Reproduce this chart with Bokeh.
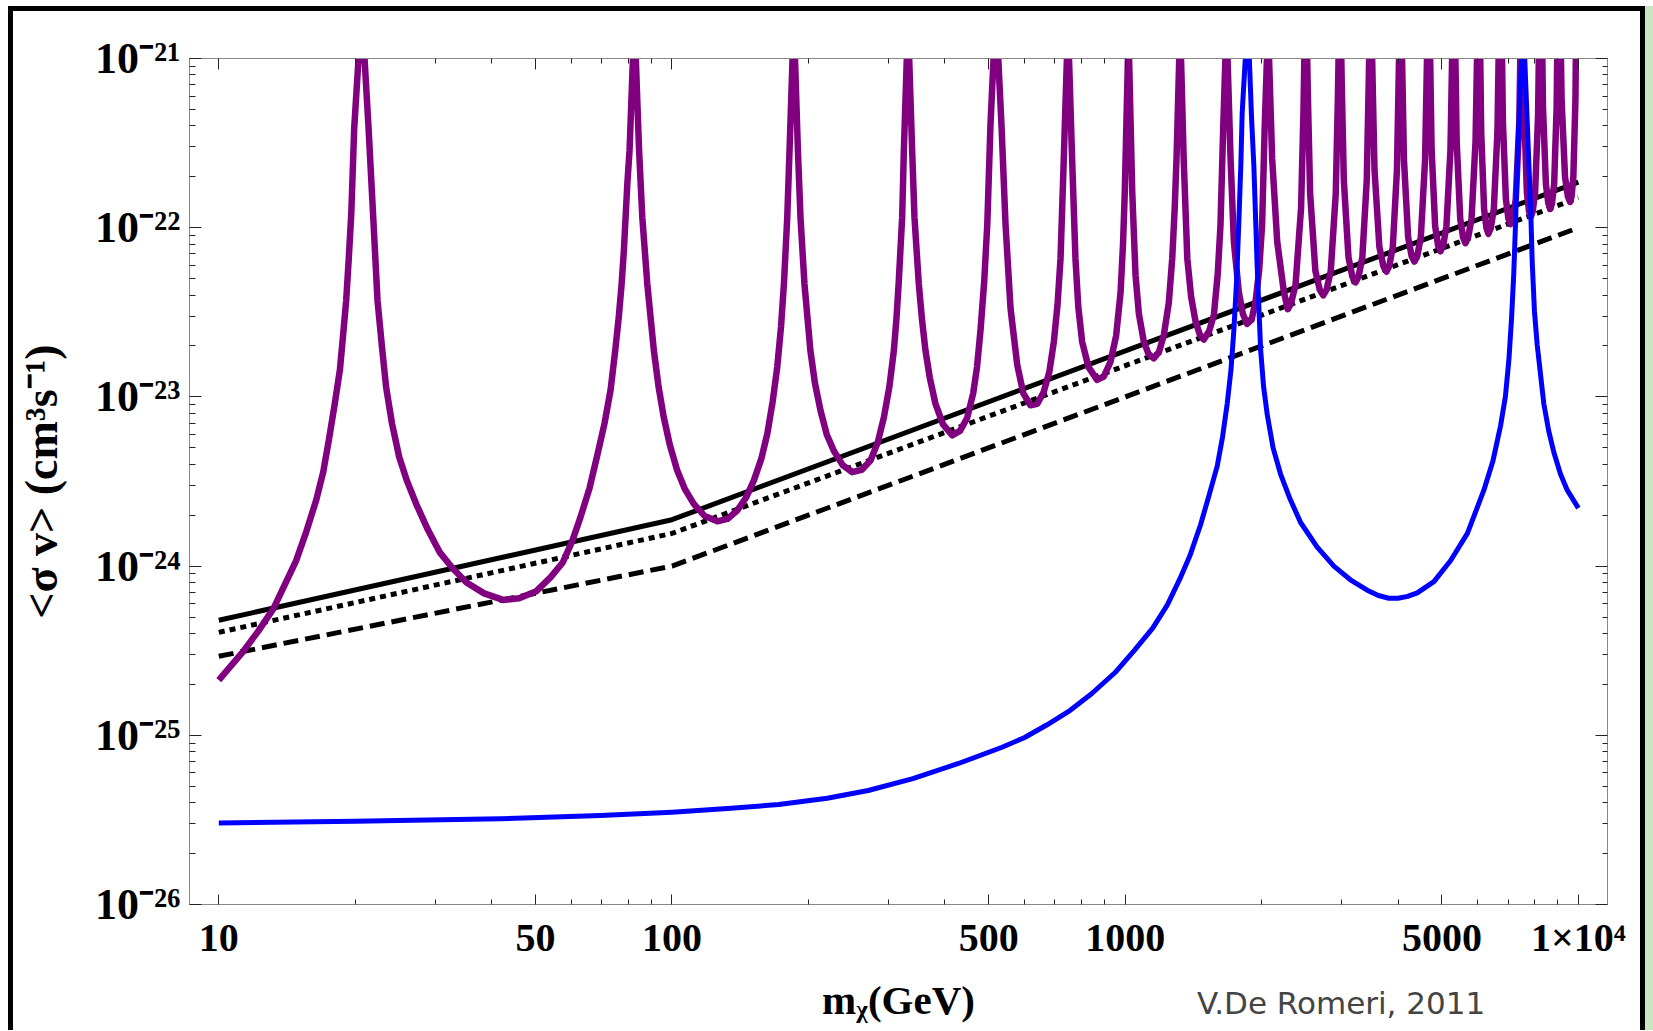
from bokeh.plotting import figure
from bokeh.models import FixedTicker, LogAxis, Range1d, Div
from bokeh.layouts import column
from bokeh.embed import file_html
from bokeh.resources import INLINE

# ---------------- data ----------------
ann_mass = [10.0, 100.0, 10000.0]
sv_solid = [4.79e-25, 1.88e-24, 1.86e-22]
sv_dotted = [4.06e-25, 1.56e-24, 1.50e-22]
sv_dashed = [2.93e-25, 1.00e-24, 1.00e-22]

blue_mass = [10, 20, 41.8, 69.5, 100, 135, 172, 220, 271, 340, 427, 535, 600, 671, 755, 843,
             950, 1050, 1150, 1239, 1320, 1389, 1466, 1530, 1596, 1640, 1679, 1712, 1738,
             1762, 1782, 1800, 1812, 1841, 1860, 1879, 1900, 1923, 1955, 1990, 2020, 2058,
             2120, 2202, 2310, 2438, 2650, 2887, 3140, 3420, 3620, 3818, 4000, 4200, 4410,
             4800, 5226, 5690, 6186, 6480, 6736, 6900, 7023, 7120, 7200, 7270, 7328, 7489,
             7551, 7614, 7780, 7850, 7910, 8000, 8110, 8390, 8600, 8830, 9130, 9450, 10000]
blue_sv = [3.03e-26, 3.1e-26, 3.21e-26, 3.36e-26, 3.51e-26, 3.7e-26, 3.9e-26, 4.25e-26,
           4.72e-26, 5.55e-26, 6.79e-26, 8.5e-26, 9.7e-26, 1.15e-25, 1.4e-25, 1.76e-25,
           2.35e-25, 3.2e-25, 4.3e-25, 5.9e-25, 8.4e-25, 1.15e-24, 1.75e-24, 2.6e-24,
           3.9e-24, 5.8e-24, 9.1e-24, 1.45e-23, 2.54e-23, 5.0e-23, 1.1e-22, 2.4e-22, 4.8e-22,
           1.0e-21, 5.0e-21, 1.0e-21, 4.5e-22, 2.3e-22, 6.0e-23, 1.9e-23, 1.15e-23, 7.85e-24,
           5.0e-24, 3.5e-24, 2.5e-24, 1.81e-24, 1.3e-24, 1.0e-24, 8.3e-25, 7.2e-25, 6.7e-25,
           6.46e-25, 6.45e-25, 6.62e-25, 6.95e-25, 8.1e-25, 1.08e-24, 1.56e-24, 2.81e-24,
           4.2e-24, 6.78e-24, 1.0e-23, 1.64e-23, 2.9e-23, 5.3e-23, 1.1e-22, 2.3e-22, 1.0e-21,
           5.0e-21, 1.0e-21, 2.3e-22, 1.25e-22, 6.2e-23, 3.2e-23, 2.04e-23, 9.1e-24, 6.3e-24,
           4.69e-24, 3.5e-24, 2.81e-24, 2.2e-24]

purple_mass = [
    10.0, 11.3, 12.2, 13.2, 14.8, 15.6, 16.4, 17.0, 17.5, 18.0, 18.5, 18.8, 19.1, 19.35,
    19.6, 19.9, 20.34, 20.65, 20.97, 21.4, 21.9, 22.4, 22.9, 23.4, 24.1, 25.0, 26.0, 27.3,
    28.9, 30.7, 32.8, 35.2, 38.5, 42.4, 46.0, 50.2, 54.0, 57.4, 60.2, 62.8, 65.8, 68.4,
    71.0, 73.2, 74.9, 76.3, 77.4, 78.3, 79.7, 80.6, 82.0, 82.6, 83.2, 84.6, 86.0, 88.2,
    91.2, 93.4, 95.9, 98.9, 102.7, 106.8, 111.7, 118.0, 125.9, 132.5, 139.3, 145.8, 151.6,
    157.4, 162.3, 166.8, 170.7, 174.0, 176.6, 179.6, 181.7, 184.5, 185.6, 186.8, 189.6,
    192.1, 196.0, 202.0, 206.8, 212.7, 219.5, 227.5, 238.0, 249.8, 262.0, 274.2, 284.5,
    293.5, 301.8, 308.7, 312.8, 316.3, 322.0, 324.8, 329.7, 331.7, 333.7, 338.8, 342.8,
    350.4, 356.0, 362.5, 370.5, 381.0, 396.0, 415.0, 432.0, 448.0, 462.0, 471.0, 479.6,
    488.5, 496.2, 504.3, 512.3, 518.5, 524.7, 533.4, 544.5, 558.5, 577.9, 596.0, 618.0,
    640.0, 661.0, 680.0, 696.0, 709.0, 720.0, 732.0, 743.7, 747.7, 751.7, 763.6, 776.7,
    788.0, 803.5, 830.0, 867.0, 897.0, 928.0, 955.0, 977.0, 989.0, 998.0, 1014.0, 1017.0,
    1020.0, 1036.4, 1054.0, 1072.0, 1099.0, 1125.0, 1156.0, 1188.0, 1217.0, 1248.0, 1270.0,
    1286.0, 1298.0, 1316.0, 1322.0, 1328.0, 1346.0, 1371.0, 1398.0, 1430.0, 1460.0, 1491.0,
    1532.0, 1569.0, 1600.0, 1623.0, 1646.0, 1664.0, 1673.0, 1682.0, 1708.0, 1737.0, 1781.0,
    1818.0, 1858.0, 1900.0, 1939.0, 1975.0, 2005.0, 2032.0, 2055.0, 2066.0, 2077.0, 2110.0,
    2165.0, 2239.0, 2285.0,
    2321, 2376, 2444, 2474, 2502, 2530, 2559, 2628, 2687, 2735,
    2782, 2842, 2915, 2947, 2977, 3005, 3037, 3110, 3172, 3223,
    3272, 3336, 3412, 3446, 3478, 3512, 3549, 3638, 3712, 3773,
    3826, 3895, 3978, 4015, 4049, 4084, 4122, 4210, 4286, 4346,
    4410, 4491, 4589, 4632, 4673, 4707, 4744, 4830, 4903, 4962,
    5030, 5115, 5221, 5267, 5309, 5347, 5388, 5486, 5567, 5634,
    5711, 5811, 5930, 5983, 6029, 6064, 6103, 6193, 6269, 6330,
    6408, 6507, 6628, 6680, 6730, 6770, 6815, 6919, 7009, 7080,
    7165, 7274, 7406, 7464, 7515, 7555, 7597, 7697, 7782, 7850,
    7928, 8027, 8148, 8201, 8250, 8300, 8353, 8479, 8585, 8670,
    8744, 8841, 8954, 9004, 9050, 9113, 9183, 9344, 9480, 9590,
    9659, 9746, 9851, 9897, 10000]
purple_sv = [
    2.12e-25, 3.11e-25, 4.1e-25, 5.61e-25, 1.07e-24, 1.6e-24, 2.45e-24, 3.6e-24, 5.6e-24,
    8.9e-24, 1.44e-23, 2.3e-23, 3.7e-23, 6.5e-23,
    1.2e-22, 3.9e-22, 1.0e-21, 3.0e-21, 1.0e-21, 3.9e-22, 1.2e-22, 3.7e-23, 2.0e-23,
    1.14e-23, 7.0e-24, 4.43e-24, 3.2e-24, 2.31e-24,
    1.65e-24, 1.21e-24, 9.7e-25, 8.0e-25, 6.9e-25, 6.31e-25, 6.45e-25, 7.11e-25, 8.6e-25,
    1.05e-24, 1.4e-24, 1.94e-24, 2.9e-24, 4.5e-24,
    7.0e-24, 1.1e-23, 1.85e-23, 2.96e-23, 4.6e-23, 7.3e-23, 1.82e-22, 2.86e-22, 1.0e-21,
    3.0e-21, 1.0e-21, 2.86e-22, 1.15e-22, 4.66e-23,
    1.88e-23, 1.15e-23, 7.58e-24, 5.2e-24, 3.67e-24, 2.85e-24, 2.33e-24, 1.98e-24,
    1.84e-24, 1.9e-24, 2.13e-24, 2.55e-24, 3.21e-24,
    4.3e-24, 6.06e-24, 9.4e-24, 1.5e-23, 2.6e-23, 4.66e-23, 1.15e-22, 2.86e-22, 1.0e-21,
    3.0e-21, 1.0e-21, 2.86e-22,
    1.15e-22, 4.66e-23, 1.88e-23, 1.2e-23, 8.3e-24, 6.0e-24, 4.8e-24, 3.95e-24, 3.59e-24,
    3.7e-24, 4.21e-24, 5.4e-24,
    7.58e-24, 1.15e-23, 1.88e-23, 2.9e-23, 4.66e-23, 1.15e-22, 2.86e-22, 1.0e-21, 3.0e-21,
    1.0e-21, 2.86e-22, 1.15e-22,
    4.66e-23, 2.9e-23, 1.88e-23, 1.3e-23, 9.2e-24, 6.9e-24, 5.93e-24, 6.3e-24, 7.5e-24,
    1.05e-23, 1.5e-23, 2.5e-23,
    4.8e-23, 1.04e-22, 4.03e-22, 1.0e-21, 3.0e-21, 1.0e-21, 4.03e-22, 1.04e-22, 3.33e-23,
    1.54e-23, 1.05e-23, 8.93e-24,
    9.1e-24, 1.07e-23, 1.4e-23, 2.12e-23, 3.5e-23, 6.58e-23, 2.56e-22, 1.0e-21, 3.0e-21,
    1.0e-21, 2.56e-22, 6.58e-23,
    3.4e-23, 2.12e-23, 1.5e-23, 1.26e-23, 1.32e-23, 1.61e-23, 2.3e-23, 4.18e-23, 8.0e-23,
    1.63e-22, 1.0e-21, 3.0e-21,
    1.0e-21, 1.63e-22, 5.24e-23, 3.1e-23, 2.12e-23, 1.8e-23, 1.69e-23, 1.85e-23, 2.32e-23,
    3.6e-23, 6.58e-23,
    1.3e-22, 2.56e-22, 1.0e-21, 3.0e-21, 1.0e-21, 2.56e-22, 6.58e-23, 3.9e-23, 2.78e-23,
    2.35e-23, 2.18e-23,
    2.45e-23, 3.04e-23, 5.3e-23, 1.04e-22, 4.03e-22, 1.0e-21, 3.0e-21, 1.0e-21, 2.56e-22,
    8.26e-23, 4.18e-23,
    3.1e-23, 2.7e-23, 2.85e-23, 3.65e-23, 5.6e-23, 1.04e-22, 4.03e-22, 1.0e-21, 3.0e-21,
    1.0e-21, 2.56e-22,
    8.26e-23, 4.18e-23, 3.3e-23,
    3.56e-23, 4.58e-23, 1.31e-22, 4.9e-22, 3.0e-21, 5.97e-22, 1.59e-22, 5.57e-23, 4.3e-23, 3.98e-23,
    4.3e-23, 5.57e-23, 1.59e-22, 5.97e-22, 3.0e-21, 7.1e-22, 1.9e-22, 6.65e-23, 5.13e-23, 4.75e-23,
    5.13e-23, 6.65e-23, 1.9e-22, 7.1e-22, 3.0e-21, 8.25e-22, 2.2e-22, 7.7e-23, 5.94e-23, 5.5e-23,
    5.94e-23, 7.7e-23, 2.2e-22, 8.25e-22, 3.0e-21, 9.45e-22, 2.52e-22, 8.8e-23, 6.8e-23, 6.3e-23,
    6.8e-23, 8.8e-23, 2.52e-22, 9.45e-22, 3.0e-21, 1.09e-21, 2.9e-22, 1.02e-22, 7.83e-23, 7.25e-23,
    7.83e-23, 1.02e-22, 2.9e-22, 1.09e-21, 3.0e-21, 1.22e-21, 3.24e-22, 1.13e-22, 8.75e-23, 8.1e-23,
    8.75e-23, 1.13e-22, 3.24e-22, 1.22e-21, 3.0e-21, 1.38e-21, 3.68e-22, 1.29e-22, 9.94e-23, 9.2e-23,
    9.94e-23, 1.29e-22, 3.68e-22, 1.38e-21, 3.0e-21, 1.58e-21, 4.2e-22, 1.47e-22, 1.13e-22, 1.05e-22,
    1.13e-22, 1.47e-22, 4.2e-22, 1.58e-21, 3.0e-21, 1.74e-21, 4.64e-22, 1.62e-22, 1.25e-22, 1.16e-22,
    1.25e-22, 1.62e-22, 4.64e-22, 1.74e-21, 3.0e-21, 1.94e-21, 5.16e-22, 1.81e-22, 1.39e-22, 1.29e-22,
    1.39e-22, 1.81e-22, 5.16e-22, 1.94e-21, 3.0e-21, 2.13e-21, 5.68e-22, 1.99e-22, 1.53e-22, 1.42e-22,
    1.53e-22, 1.99e-22, 5.68e-22, 2.13e-21, 3.0e-21]

x_ticks = [10.0, 50.0, 100.0, 500.0, 1000.0, 5000.0, 10000.0]
x_tick_labels = ["10", "50", "100", "500", "1000", "5000", "1\u00d710\u2074"]
x_minor = [20.0, 30.0, 40.0, 60.0, 70.0, 80.0, 90.0, 200.0, 300.0, 400.0, 600.0, 700.0,
           800.0, 900.0, 2000.0, 3000.0, 4000.0, 6000.0, 7000.0, 8000.0, 9000.0]
y_ticks = [1e-26, 1e-25, 1e-24, 1e-23, 1e-22, 1e-21]
y_tick_labels = ["10\u207b\u00b2\u2076", "10\u207b\u00b2\u2075", "10\u207b\u00b2\u2074",
                 "10\u207b\u00b2\u00b3", "10\u207b\u00b2\u00b2", "10\u207b\u00b2\u00b9"]
y_minor = [d * 10.0 ** k for k in range(-26, -21) for d in range(2, 10)]

x_label = "m\u1d6a(GeV)"
y_label = "<\u03c3 v> (cm\u00b3s\u207b\u00b9)"
credit = "V.De Romeri, 2011"

# ---------------- figure ----------------
SERIF = "Liberation Serif"
p = figure(width=1627, height=1019, x_axis_type="log", y_axis_type="log",
           x_range=Range1d(8.617, 11594), y_range=Range1d(1e-26, 1e-21),
           output_backend="svg", toolbar_location=None,
           min_border_left=176, min_border_right=33, min_border_top=47, min_border_bottom=126)
p.grid.visible = False
p.outline_line_color = "#888888"
p.background_fill_color = "white"
p.border_fill_color = "white"

p.line(ann_mass, sv_dashed, line_color="black", line_width=5, line_dash="15 7")
p.line(ann_mass, sv_dotted, line_color="black", line_width=5, line_dash="6 5")
p.line(ann_mass, sv_solid, line_color="black", line_width=5)
p.line(purple_mass, purple_sv, line_color="#800080", line_width=6.5, line_join="round")
p.line(blue_mass, blue_sv, line_color="#0000ff", line_width=5, line_join="round")

xa = p.xaxis[0]
xa.ticker = FixedTicker(ticks=x_ticks, minor_ticks=x_minor)
xa.major_label_overrides = dict(zip(x_ticks, x_tick_labels))
xa.major_tick_in, xa.major_tick_out = 10, 0
xa.minor_tick_in, xa.minor_tick_out = 5, 0
xa.major_label_standoff = 10
xa.axis_label = x_label
xa.axis_label_standoff = 14
xa.major_label_text_font_size = "40px"
xa.axis_label_text_font_size = "41px"

ya = p.yaxis[0]
ya.ticker = FixedTicker(ticks=y_ticks, minor_ticks=y_minor)
ya.major_label_overrides = dict(zip(y_ticks, y_tick_labels))
ya.major_tick_in, ya.major_tick_out = 12, 0
ya.minor_tick_in, ya.minor_tick_out = 6, 0
ya.major_label_standoff = 9
ya.axis_label = y_label
ya.axis_label_standoff = 25
ya.major_label_text_font_size = "44px"
ya.axis_label_text_font_size = "46px"

for ax in (xa, ya):
    ax.axis_line_color = "#888888"
    ax.major_tick_line_color = "#222222"
    ax.minor_tick_line_color = "#222222"
    ax.major_label_text_font = SERIF
    ax.major_label_text_font_style = "bold"
    ax.major_label_text_color = "black"
    ax.axis_label_text_font = SERIF
    ax.axis_label_text_font_style = "bold"
    ax.axis_label_text_color = "black"

top = LogAxis(ticker=FixedTicker(ticks=x_ticks, minor_ticks=x_minor),
              major_label_overrides={t: "" for t in x_ticks},
              major_tick_in=11, major_tick_out=0, minor_tick_in=5, minor_tick_out=0,
              axis_line_color="#888888", major_tick_line_color="#222222",
              minor_tick_line_color="#222222")
right = LogAxis(ticker=FixedTicker(ticks=y_ticks, minor_ticks=y_minor),
                major_label_overrides={t: "" for t in y_ticks},
                major_tick_in=12, major_tick_out=0, minor_tick_in=5, minor_tick_out=0,
                axis_line_color="#888888", major_tick_line_color="#222222",
                minor_tick_line_color="#222222")
p.add_layout(top, "above")
p.add_layout(right, "right")

credit_div = Div(text=credit, styles={
    "position": "absolute", "left": "1179px", "top": "972px",
    "font-family": "DejaVu Sans", "font-size": "31px", "line-height": "1",
    "color": "#444444", "white-space": "nowrap", "z-index": "5"})

layout = column(p, credit_div, styles={
    "margin-left": "8px", "margin-top": "6px",
    "border": "5px solid black", "border-bottom": "none",
    "box-shadow": "8px 0 0 0 #c8e6c0"})

open("out.html", "w").write(file_html(layout, INLINE))
